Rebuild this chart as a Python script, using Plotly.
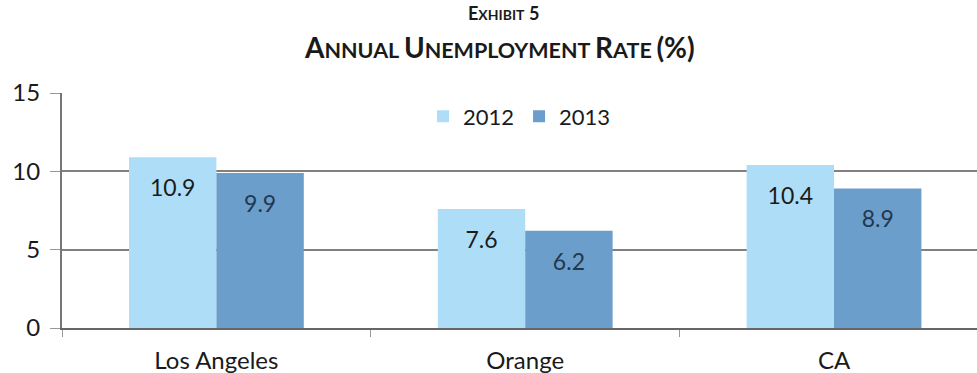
import plotly.graph_objects as go

categories = ["Los Angeles", "Orange", "CA"]
rate_2012 = [10.9, 7.6, 10.4]
rate_2013 = [9.9, 6.2, 8.9]
y_ticks = [0, 5, 10, 15]

FONT = "Lato"
C2012 = "#AEDEF7"
C2013 = "#6C9ECB"

fig = go.Figure()
fig.add_trace(go.Bar(
    x=categories, y=rate_2012, name="2012", marker=dict(color=C2012, line=dict(width=0)),
    text=rate_2012, texttemplate="<span style='font-size:6px'> </span><br>%{y:.1f}",
    textposition="inside", insidetextanchor="end",
    textfont=dict(family=FONT, size=23, color="#1b1b1b"), cliponaxis=False,
))
fig.add_trace(go.Bar(
    x=categories, y=rate_2013, name="2013", marker=dict(color=C2013, line=dict(width=0)),
    text=rate_2013, texttemplate="<span style='font-size:6px'> </span><br>%{y:.1f}",
    textposition="inside", insidetextanchor="end",
    textfont=dict(family=FONT, size=23, color="#22384f"), cliponaxis=False,
))

def smallcaps(text, big, small):
    out = []
    for word in text.split(" "):
        if word and word[0].isalpha():
            out.append(f"<span style='font-size:{big}px'>{word[0]}</span><span style='font-size:{small}px'>{word[1:].upper()}</span>")
        else:
            out.append(f"<span style='font-size:{big}px'>{word}</span>")
    return " ".join(out)

fig.add_annotation(text="<b>" + smallcaps("Exhibit 5", 18, 14) + "</b>", xref="paper", yref="paper",
                   x=0.483, y=1.0, yanchor="middle", xanchor="center", showarrow=False,
                   yshift=93 - 12, font=dict(family=FONT, color="#1a1a1a"))
fig.add_annotation(text="<b>" + smallcaps("Annual Unemployment Rate (%)", 28, 21.5) + "</b>", xref="paper", yref="paper",
                   x=0.478, y=1.0, yanchor="middle", xanchor="center", showarrow=False,
                   yshift=93 - 47, font=dict(family=FONT, color="#1a1a1a"))

fig.update_layout(
    width=977, height=373,
    margin=dict(l=62, r=0, t=93, b=45),
    paper_bgcolor="white", plot_bgcolor="white",
    barmode="group", bargap=0.434, bargroupgap=0,
    font=dict(family=FONT, size=19, color="#1a1a1a"),
    legend=dict(orientation="h", x=0.5, xanchor="center", y=0.99, yanchor="top",
                font=dict(family=FONT, size=22, color="#1a1a1a"), bgcolor="rgba(0,0,0,0)",
                itemwidth=30, traceorder="normal"),
    xaxis=dict(range=[-0.5, 2.463], showgrid=False, showline=True, linecolor="#666", linewidth=2,
               ticks="outside", tickson="boundaries", ticklen=7, tickcolor="#999", tickwidth=1,
               ticklabelstandoff=10,
               tickfont=dict(family=FONT, size=24, color="#1a1a1a"), zeroline=False),
    yaxis=dict(range=[0, 15], tickvals=y_ticks, showgrid=True, gridcolor="#808080", gridwidth=2,
               showline=True, linecolor="#777", linewidth=2, ticks="outside", ticklen=10,
               ticklabelstandoff=5,
               tickcolor="#999", tickwidth=1, tickfont=dict(family=FONT, size=24, color="#1a1a1a"),
               zeroline=False),
)

fig.write_html("out.html")
